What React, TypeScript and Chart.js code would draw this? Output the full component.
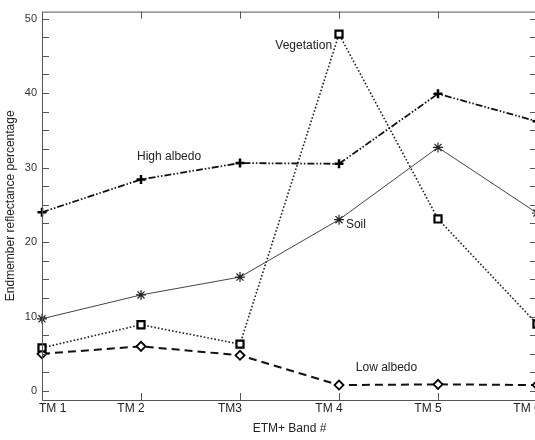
import React, { useEffect, useRef } from "react";
import { Chart, registerables } from "chart.js";

Chart.register(...registerables);

const categories = ["TM 1", "TM 2", "TM3", "TM 4", "TM 5", "TM 6"];
const highAlbedo = [24, 28.4, 30.6, 30.5, 39.9, 36.2];
const soil = [9.7, 12.9, 15.3, 23, 32.7, 23.9];
const vegetation = [5.8, 8.9, 6.3, 47.9, 23.1, 9];
const lowAlbedo = [5, 6, 4.8, 0.8, 0.9, 0.8];
const yTickValues = [0, 10, 20, 30, 40, 50];
const annotationTexts = ["Vegetation", "High albedo", "Soil", "Low albedo"];
const annotationX = [3.93, 1.96, 4.07, 4.17];
const annotationY = [46.3, 31.4, 22.3, 3.2];
const annotationAlign = ["right", "left", "left", "left"];

const FONT = "'Liberation Sans', Arial, sans-serif";

const toPoints = (arr: number[]) => arr.map((v, i) => ({ x: i + 1, y: v }));

const framePlugin = {
  id: "frame",
  afterDatasetsDraw(chart: any) {
    const { ctx, chartArea, scales } = chart;
    const { left, right, top, bottom } = chartArea;
    const xs = scales.x;
    const ys = scales.y;
    ctx.save();
    ctx.strokeStyle = "#555";
    ctx.lineWidth = 1;
    ctx.beginPath();
    ctx.moveTo(left + 0.5, top + 0.5);
    ctx.lineTo(right + 0.5, top + 0.5);
    ctx.lineTo(right + 0.5, bottom + 0.5);
    ctx.lineTo(left + 0.5, bottom + 0.5);
    ctx.closePath();
    ctx.stroke();
    ctx.beginPath();
    for (let v = 0; v <= 50; v += 2.5) {
      const py = Math.round(ys.getPixelForValue(v)) + 0.5;
      ctx.moveTo(left, py);
      ctx.lineTo(left + 7, py);
      ctx.moveTo(right, py);
      ctx.lineTo(right - 7, py);
    }
    categories.forEach((_, i) => {
      const px = Math.round(xs.getPixelForValue(i + 1)) + 0.5;
      ctx.moveTo(px, bottom);
      ctx.lineTo(px, bottom - 7);
      ctx.moveTo(px, top);
      ctx.lineTo(px, top + 7);
    });
    ctx.stroke();
    ctx.fillStyle = "#222";
    ctx.font = `12px ${FONT}`;
    ctx.textBaseline = "top";
    categories.forEach((lab, i) => {
      const px = xs.getPixelForValue(i + 1);
      if (i === 0) {
        ctx.textAlign = "left";
        ctx.fillText(lab, px - 3, bottom + 3);
      } else {
        ctx.textAlign = "center";
        ctx.fillText(lab, px - 10, bottom + 3);
      }
    });
    ctx.textBaseline = "middle";
    annotationTexts.forEach((t, i) => {
      ctx.textAlign = annotationAlign[i] as CanvasTextAlign;
      ctx.fillText(t, xs.getPixelForValue(annotationX[i]), ys.getPixelForValue(annotationY[i]));
    });
    ctx.restore();
  },
};

export default function App() {
  const ref = useRef<HTMLCanvasElement>(null);
  useEffect(() => {
    document.body.style.margin = "0";
    const canvas = ref.current!;
    const chart = new Chart(canvas, {
      type: "line",
      data: {
        datasets: [
          {
            label: "High albedo",
            data: toPoints(highAlbedo),
            borderColor: "#111",
            borderWidth: 1.8,
            borderDash: [7, 2, 1.5, 2, 1.5, 2],
            pointStyle: "cross",
            pointRadius: 4.5,
            pointBorderWidth: 2.5,
            pointBorderColor: "#000",
            pointBackgroundColor: "#000",
            tension: 0,
            clip: false,
          },
          {
            label: "Soil",
            data: toPoints(soil),
            borderColor: "#444",
            borderWidth: 1,
            pointStyle: "star",
            pointRadius: 5,
            pointBorderWidth: 1.2,
            pointBorderColor: "#222",
            pointBackgroundColor: "#222",
            tension: 0,
            clip: false,
          },
          {
            label: "Vegetation",
            data: toPoints(vegetation),
            borderColor: "#222",
            borderWidth: 1.6,
            borderDash: [1.6, 2],
            pointStyle: "rect",
            pointRadius: 5,
            pointBorderWidth: 2.2,
            pointBorderColor: "#000",
            pointBackgroundColor: "#fff",
            tension: 0,
            clip: false,
          },
          {
            label: "Low albedo",
            data: toPoints(lowAlbedo),
            borderColor: "#111",
            borderWidth: 2,
            borderDash: [8, 5],
            pointStyle: "rectRot",
            pointRadius: 4.5,
            pointBorderWidth: 1.8,
            pointBorderColor: "#000",
            pointBackgroundColor: "#fff",
            tension: 0,
            clip: false,
          },
        ] as any,
      },
      options: {
        responsive: false,
        devicePixelRatio: 1,
        animation: false,
        layout: { padding: { top: 8, right: 8, left: 0, bottom: 0 } },
        plugins: { legend: { display: false }, tooltip: { enabled: false } },
        scales: {
          x: {
            type: "linear",
            min: 1,
            max: 6,
            grid: { display: false },
            border: { display: false },
            ticks: { display: false },
            title: {
              display: true,
              text: "ETM+ Band #",
              color: "#222",
              font: { family: FONT, size: 12 },
              padding: 4,
            },
            afterFit: (s: any) => {
              s.height = 40;
            },
          },
          y: {
            type: "linear",
            min: -1.2,
            max: 50.93,
            grid: { display: false, drawTicks: false },
            border: { display: false },
            afterBuildTicks: (s: any) => {
              s.ticks = yTickValues.map((v) => ({ value: v }));
            },
            ticks: {
              color: "#333",
              font: { family: FONT, size: 11 },
              padding: 5,
            },
            title: {
              display: true,
              text: "Endmember reflectance percentage",
              color: "#222",
              font: { family: FONT, size: 12 },
              padding: 3,
            },
            afterFit: (s: any) => {
              s.width = 42;
            },
          },
        },
      } as any,
      plugins: [framePlugin],
    });
    return () => chart.destroy();
  }, []);
  return (
    <div
      style={{
        position: "fixed",
        left: 0,
        top: 0,
        width: 535,
        height: 440,
        overflow: "hidden",
        background: "#fff",
      }}
    >
      <canvas ref={ref} width={545} height={440} style={{ display: "block", width: 545, height: 440 }} />
    </div>
  );
}
